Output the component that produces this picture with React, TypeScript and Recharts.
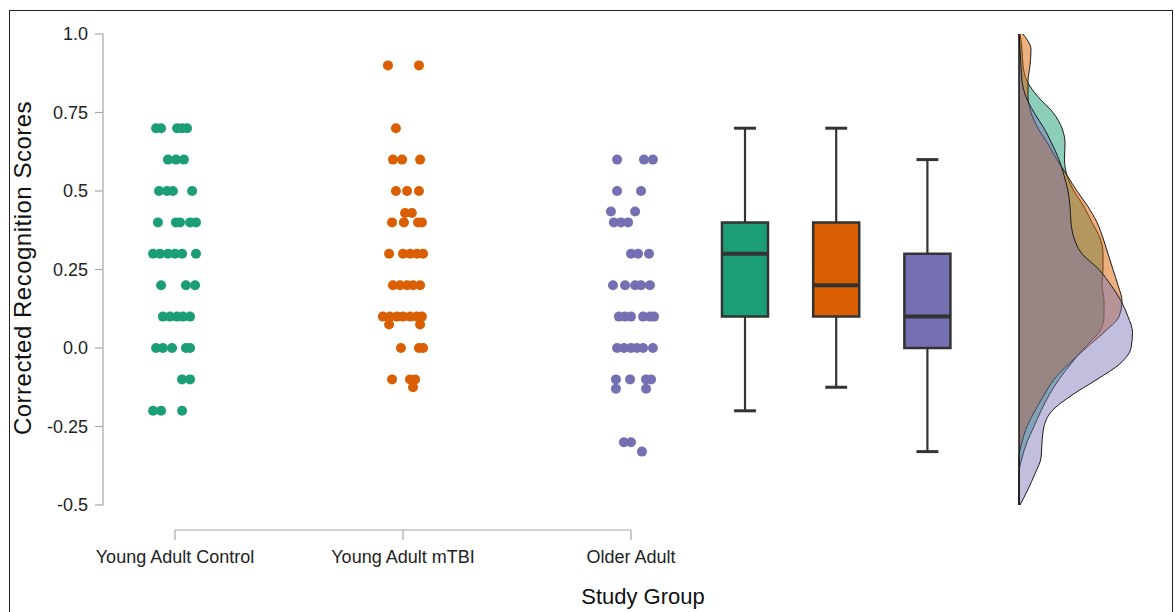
import React from 'react';
import { ComposedChart, Scatter, XAxis, YAxis, ReferenceLine, ReferenceArea, Area } from 'recharts';

// ---------- data ----------
const groupNames = ['Young Adult Control', 'Young Adult mTBI', 'Older Adult'];
const groupColors = ['#1b9e77', '#d95f02', '#7570b3'];
const yTicks = [-0.5, -0.25, 0, 0.25, 0.5, 0.75, 1.0];
const yTickLabels = ['-0.5', '-0.25', '0.0', '0.25', '0.5', '0.75', '1.0'];

// [score, horizontal jitter in x-axis units]
const controlScores: [number, number][] = [
  [0.7, -0.083], [0.7, -0.061], [0.7, 0.009], [0.7, 0.031], [0.7, 0.053],
  [0.6, -0.031], [0.6, 0.004], [0.6, 0.039],
  [0.5, -0.07], [0.5, -0.035], [0.5, -0.009], [0.5, 0.075],
  [0.4, -0.075], [0.4, 0.004], [0.4, 0.022], [0.4, 0.066], [0.4, 0.092],
  [0.3, -0.096], [0.3, -0.066], [0.3, -0.031], [0.3, 0], [0.3, 0.031], [0.3, 0.092],
  [0.2, -0.061], [0.2, 0.048], [0.2, 0.088],
  [0.1, -0.053], [0.1, -0.022], [0.1, 0.009], [0.1, 0.035], [0.1, 0.066],
  [0, -0.083], [0, -0.053], [0, -0.013], [0, 0.048], [0, 0.066],
  [-0.1, 0.031], [-0.1, 0.066],
  [-0.2, -0.096], [-0.2, -0.061], [-0.2, 0.031],
];
const mtbiScores: [number, number][] = [
  [0.9, -0.066], [0.9, 0.07],
  [0.7, -0.031],
  [0.6, -0.044], [0.6, -0.004], [0.6, 0.075],
  [0.5, -0.031], [0.5, 0.018], [0.5, 0.07],
  [0.43, 0.009], [0.43, 0.039],
  [0.4, -0.048], [0.4, 0.004], [0.4, 0.066], [0.4, 0.083],
  [0.3, -0.061], [0.3, 0], [0.3, 0.031], [0.3, 0.061], [0.3, 0.088],
  [0.2, -0.044], [0.2, -0.013], [0.2, 0.018], [0.2, 0.044], [0.2, 0.075],
  [0.1, -0.088], [0.1, -0.057], [0.1, -0.026], [0.1, 0], [0.1, 0.031], [0.1, 0.061], [0.1, 0.083],
  [0.075, -0.061], [0.075, 0.075],
  [0, -0.009], [0, 0.07], [0, 0.088],
  [-0.1, -0.048], [-0.1, 0.031], [-0.1, 0.053],
  [-0.125, 0.044],
];
const olderScores: [number, number][] = [
  [0.6, -0.061], [0.6, 0.057], [0.6, 0.096],
  [0.5, -0.061], [0.5, 0.044],
  [0.435, -0.088], [0.435, 0.018],
  [0.4, -0.075], [0.4, -0.044], [0.4, -0.013],
  [0.3, 0], [0.3, 0.031], [0.3, 0.079],
  [0.2, -0.079], [0.2, -0.026], [0.2, 0.018], [0.2, 0.044], [0.2, 0.083],
  [0.1, -0.053], [0.1, -0.026], [0.1, 0], [0.1, 0.053], [0.1, 0.083], [0.1, 0.101],
  [0, -0.061], [0, -0.031], [0, 0], [0, 0.026], [0, 0.053], [0, 0.096],
  [-0.1, -0.066], [-0.1, -0.004], [-0.1, 0.066], [-0.1, 0.088],
  [-0.13, -0.066], [-0.13, 0.066],
  [-0.3, -0.031], [-0.3, 0],
  [-0.33, 0.048],
];

// box plot statistics per group
const boxLow = [-0.2, -0.125, -0.33];
const boxQ1 = [0.1, 0.1, 0.0];
const boxMedian = [0.3, 0.2, 0.1];
const boxQ3 = [0.4, 0.4, 0.3];
const boxHigh = [0.7, 0.7, 0.6];

// density curves (relative density) read at these scores
const densityScores = [1.0, 0.95, 0.9, 0.85, 0.8, 0.75, 0.7, 0.65, 0.6, 0.55, 0.5, 0.45, 0.4, 0.35, 0.3, 0.25, 0.2, 0.15, 0.1, 0.05, 0.0, -0.05, -0.1, -0.15, -0.2, -0.25, -0.3, -0.35, -0.4, -0.45, -0.5];
const densityControl = [1, 3, 4, 8, 19, 34, 43, 46, 45.5, 48, 55, 65, 73, 81, 84, 84, 83, 85, 85, 80, 65, 52, 40, 30, 22, 15, 8, 3, 0, 0, 0];
const densityMtbi = [4, 12, 11, 9, 9, 12, 19, 29, 38, 48, 58, 69, 78, 84, 89, 94, 99, 103, 100, 85, 67, 50, 35, 25, 16, 8, 3, 0, 0, 0, 0];
const densityOlder = [0, 1, 2, 3, 7, 15, 25, 33, 40, 45, 49, 51, 52, 55, 63, 80, 92, 102, 109, 113.5, 112, 101, 78, 53, 33, 25, 23, 22, 16, 9, 1];

// ---------- derived tables ----------
const groupScores = [controlScores, mtbiScores, olderScores];
const scatterData = groupScores.map((arr, gi) => arr.map(([score, jit]) => ({ x: gi + 1 + jit, y: score })));
const densityRows = densityScores.map((s, i) => ({ score: s, g: densityControl[i], o: densityMtbi[i], p: densityOlder[i] }));

// ---------- layout ----------
const Y_MIN = -0.5796;
const X_MIN = 0.68421;
const X_MAX = 5.34211;
const boxCenters = [3.5, 3.9, 4.3];
const BOX_HALF = 0.101;
const CAP_HALF = 0.048;
const FONT = 'Liberation Sans, Arial, Helvetica, sans-serif';
const AXIS_GRAY = '#a6a6a6';
const DARK = '#333333';

const makeDot = (color: string) => (props: any) => (
  <circle cx={props.cx} cy={props.cy} r={5} fill={color} />
);

const XTitle = (props: any) => {
  const vb = props.viewBox || { x: 103, width: 1062 };
  return (
    <text x={vb.x + vb.width / 2 + 9} y={604} textAnchor="middle" fontSize={22} fontFamily={FONT} fill="#111">
      Study Group
    </text>
  );
};
const YTitle = () => (
  <text transform="translate(31,268) rotate(-90)" textAnchor="middle" fontSize={24} letterSpacing={0.5} fontFamily={FONT} fill="#111">
    Corrected Recognition Scores
  </text>
);

export default function App() {
  return (
    <div style={{ position: 'absolute', left: 0, top: 0, width: 1175, height: 612, overflow: 'hidden', background: '#fff' }}>
      <div style={{ position: 'absolute', left: 0, top: 0 }}>
        <ComposedChart width={1175} height={612} margin={{ top: 34, right: 10, bottom: 52, left: 0 }}>
          <XAxis
            type="number"
            dataKey="x"
            domain={[X_MIN, X_MAX]}
            allowDataOverflow
            ticks={[1, 2, 3]}
            tickFormatter={(v: number) => groupNames[Math.round(v) - 1] || ''}
            axisLine={false}
            tickLine={{ stroke: AXIS_GRAY, strokeWidth: 1.2 }}
            tickSize={10}
            tickMargin={10}
            height={30}
            tick={{ fontSize: 18, fontFamily: FONT, fill: '#222' }}
            interval={0}
            label={<XTitle />}
          />
          <YAxis
            type="number"
            dataKey="y"
            domain={[Y_MIN, 1]}
            allowDataOverflow
            ticks={yTicks}
            tickFormatter={(v: number) => yTickLabels[yTicks.indexOf(v)] ?? String(v)}
            axisLine={false}
            tickLine={{ stroke: AXIS_GRAY, strokeWidth: 1.2 }}
            tickSize={8}
            tickMargin={7}
            width={103}
            tick={{ fontSize: 18, fontFamily: FONT, fill: '#222' }}
            interval={0}
            label={<YTitle />}
          />
          <ReferenceLine segment={[{ x: X_MIN, y: -0.5 }, { x: X_MIN, y: 1 }]} stroke={AXIS_GRAY} strokeWidth={1.2} ifOverflow="visible" />
          <ReferenceLine segment={[{ x: 1, y: Y_MIN }, { x: 3, y: Y_MIN }]} stroke={AXIS_GRAY} strokeWidth={1.2} ifOverflow="visible" />
          {scatterData.map((d, gi) => (
            <Scatter key={'s' + gi} data={d} fill={groupColors[gi]} shape={makeDot(groupColors[gi])} isAnimationActive={false} />
          ))}
          {boxCenters.map((c, i) => (
            <ReferenceLine key={'wu' + i} segment={[{ x: c, y: boxQ3[i] }, { x: c, y: boxHigh[i] }]} stroke={DARK} strokeWidth={2.2} ifOverflow="visible" />
          ))}
          {boxCenters.map((c, i) => (
            <ReferenceLine key={'wl' + i} segment={[{ x: c, y: boxLow[i] }, { x: c, y: boxQ1[i] }]} stroke={DARK} strokeWidth={2.2} ifOverflow="visible" />
          ))}
          {boxCenters.map((c, i) => (
            <ReferenceLine key={'cu' + i} segment={[{ x: c - CAP_HALF, y: boxHigh[i] }, { x: c + CAP_HALF, y: boxHigh[i] }]} stroke={DARK} strokeWidth={3} ifOverflow="visible" />
          ))}
          {boxCenters.map((c, i) => (
            <ReferenceLine key={'cl' + i} segment={[{ x: c - CAP_HALF, y: boxLow[i] }, { x: c + CAP_HALF, y: boxLow[i] }]} stroke={DARK} strokeWidth={3} ifOverflow="visible" />
          ))}
          {boxCenters.map((c, i) => (
            <ReferenceArea key={'b' + i} x1={c - BOX_HALF} x2={c + BOX_HALF} y1={boxQ1[i]} y2={boxQ3[i]} fill={groupColors[i]} fillOpacity={1} stroke={DARK} strokeWidth={2.5} ifOverflow="visible" />
          ))}
          {boxCenters.map((c, i) => (
            <ReferenceLine key={'m' + i} segment={[{ x: c - BOX_HALF, y: boxMedian[i] }, { x: c + BOX_HALF, y: boxMedian[i] }]} stroke={DARK} strokeWidth={4} ifOverflow="visible" />
          ))}
        </ComposedChart>
      </div>
      <div style={{ position: 'absolute', left: 1009, top: 0 }}>
        <ComposedChart layout="vertical" width={160} height={612} data={densityRows} margin={{ top: 34, right: 0, bottom: 82, left: 0 }}>
          <XAxis type="number" hide domain={[-10, 150]} allowDataOverflow />
          <YAxis type="number" dataKey="score" hide reversed domain={[Y_MIN, 1]} allowDataOverflow />
          <Area type="monotone" dataKey="g" fill={groupColors[0]} fillOpacity={0.5} stroke="#1a1a1a" strokeWidth={1} isAnimationActive={false} />
          <Area type="monotone" dataKey="o" fill={groupColors[1]} fillOpacity={0.5} stroke="#1a1a1a" strokeWidth={1} isAnimationActive={false} />
          <Area type="monotone" dataKey="p" fill={groupColors[2]} fillOpacity={0.45} stroke="#1a1a1a" strokeWidth={1} isAnimationActive={false} />
          <ReferenceLine segment={[{ x: 0, y: -0.5 }, { x: 0, y: 1 }]} stroke="#111" strokeWidth={1.5} ifOverflow="visible" />
        </ComposedChart>
      </div>
      <div style={{ position: 'absolute', left: 9, top: 10, width: 1164, height: 640, boxSizing: 'border-box', borderTop: '1.5px solid #222', borderLeft: '1.5px solid #222', borderRight: '1.5px solid #222' }} />
    </div>
  );
}
